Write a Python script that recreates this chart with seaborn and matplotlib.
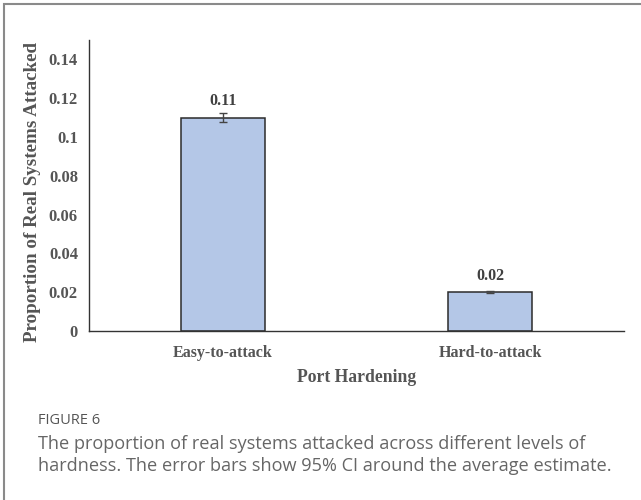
import matplotlib
matplotlib.use("Agg")
import matplotlib.pyplot as plt
from matplotlib.patches import Rectangle
import seaborn as sns
import pandas as pd

# Data
categories = ["Easy-to-attack", "Hard-to-attack"]
proportions = [0.11, 0.02]
ci_half_width = [0.0025, 0.0004]
value_labels = ["0.11", "0.02"]
y_ticks = [0, 0.02, 0.04, 0.06, 0.08, 0.1, 0.12, 0.14]
y_tick_labels = ["0", "0.02", "0.04", "0.06", "0.08", "0.1", "0.12", "0.14"]

df = pd.DataFrame({"hardening": categories, "proportion": proportions})

sns.set_theme(style="white")
plt.rcParams["font.family"] = ["Liberation Serif", "DejaVu Serif"]

W, H = 641, 500
fig = plt.figure(figsize=(W / 100, H / 100), dpi=100)
ax = fig.add_axes([89 / W, 1 - 331 / H, (624 - 89) / W, (331 - 40) / H])

text_col = "#555555"
sns.barplot(data=df, x="hardening", y="proportion", ax=ax, color="#B4C7E7",
            edgecolor="#2b2b2b", linewidth=1.1, width=0.315, errorbar=None,
            saturation=1)
ax.errorbar(range(len(categories)), proportions, yerr=ci_half_width, fmt="none",
            ecolor="#444444", elinewidth=1.0, capsize=3, capthick=1.0)

for i, (v, lab) in enumerate(zip(proportions, value_labels)):
    ax.annotate(lab, (i, v), xytext=(0, 6), textcoords="offset points",
                ha="center", va="bottom", fontsize=11.5, fontweight="bold",
                color="#404040")

ax.set_xlim(-0.5, 1.5)
ax.set_ylim(0, 0.15)
ax.set_yticks(y_ticks)
ax.set_yticklabels(y_tick_labels)
ax.tick_params(axis="y", direction="out", length=4, width=1, color="#333333",
               labelsize=12, labelcolor=text_col, pad=4)
ax.tick_params(axis="x", length=0, labelsize=11.5, labelcolor=text_col, pad=10)
for lab in ax.get_xticklabels() + ax.get_yticklabels():
    lab.set_fontweight("bold")

ax.set_xlabel("Port Hardening", fontsize=12.7, fontweight="bold", color=text_col,
              labelpad=6)
ax.set_ylabel("Proportion of Real Systems Attacked", fontsize=13.7,
              fontweight="bold", color=text_col)
ax.yaxis.set_label_coords(-48 / (624 - 89), (331 - 192) / (331 - 40))
for side in ["top", "right"]:
    ax.spines[side].set_visible(False)
for side in ["left", "bottom"]:
    ax.spines[side].set_color("#333333")
    ax.spines[side].set_linewidth(1.0)

# Caption panel frame
fig.add_artist(Rectangle((4 / W, -0.1), 1.2, 1.1 - 4 / H, transform=fig.transFigure,
                         fill=False, edgecolor="#8a8a8a", linewidth=1.5))

fig.text(38 / W, 1 - 420 / H, "FIGURE 6", family=["Open Sans", "DejaVu Sans"],
         fontsize=10.5, color="#555555", va="center", ha="left")
fig.text(38 / W, 1 - 455 / H,
         "The proportion of real systems attacked across different levels of\n"
         "hardness. The error bars show 95% CI around the average estimate.",
         family=["Open Sans", "DejaVu Sans"], fontsize=13.1, color="#666666",
         va="center", ha="left", linespacing=1.3)

fig.savefig("out.png", dpi=100)
